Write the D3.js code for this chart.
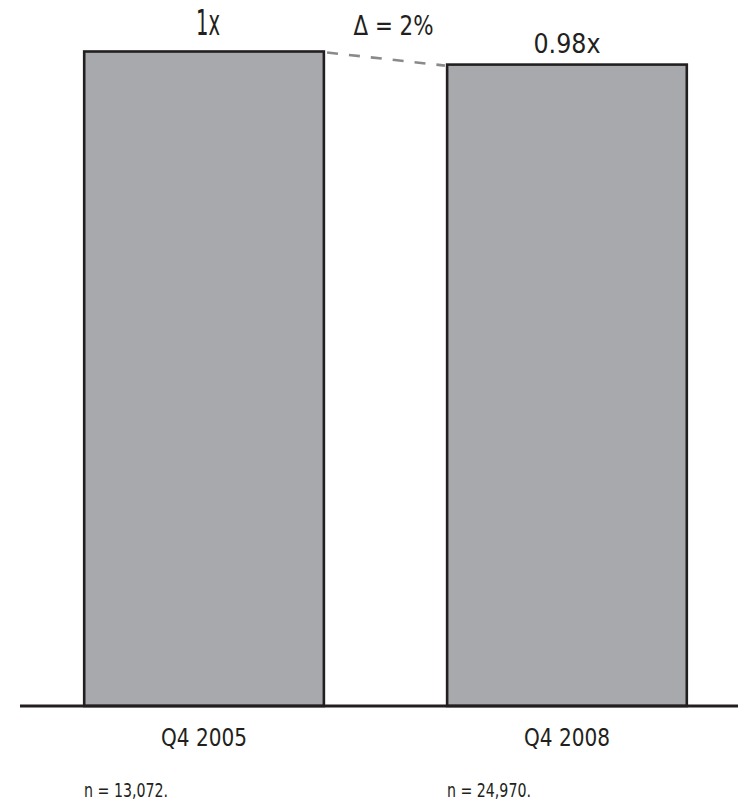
<!DOCTYPE html>
<html>
<head>
<meta charset="utf-8">
<script src="https://cdn.jsdelivr.net/npm/d3@7"></script>
<style>
  html, body { margin: 0; padding: 0; background: #fff; }
  svg { display: block; }
  text { font-family: "Liberation Sans Narrow", "DejaVu Sans Condensed", "Liberation Sans", sans-serif; fill: #231f20; }
</style>
</head>
<body>
<svg id="chart" width="738" height="801"></svg>
<script>
const categories = ["Q4 2005", "Q4 2008"];
const values = [1, 0.98];
const valueLabels = ["1x", "0.98x"];
const sampleLabels = ["n = 13,072.", "n = 24,970."];
const deltaLabel = "\u0394 = 2%";

const svg = d3.select("#chart");
const W = 738, H = 801;
const axisY = 706;

const x = d3.scaleBand().domain(categories).range([83, 688]).paddingInner(0.333).paddingOuter(0);
const y = d3.scaleLinear().domain([0, 1]).range([axisY, 51.5]);

// bars
svg.selectAll("rect.bar").data(categories).join("rect")
  .attr("class", "bar")
  .attr("x", d => x(d) + 1.2)
  .attr("y", (d, i) => y(values[i]))
  .attr("width", x.bandwidth() - 2.4)
  .attr("height", (d, i) => axisY - y(values[i]))
  .attr("fill", "#a7a9ac")
  .attr("stroke", "#231f20")
  .attr("stroke-width", 2.6);

// baseline axis
const xAxis = d3.axisBottom(x).tickSize(0).tickPadding(0);
const gAxis = svg.append("g").attr("transform", `translate(0,${axisY})`).call(xAxis);
gAxis.select(".domain").remove();
gAxis.append("line").attr("x1", 20).attr("x2", W).attr("y1", 0).attr("y2", 0)
  .attr("stroke", "#231f20").attr("stroke-width", 2.8);
gAxis.selectAll(".tick text")
  .attr("y", 40)
  .attr("dy", 0)
  .style("font-size", "24px")
  .attr("fill", "#231f20")
  .attr("textLength", 86)
  .attr("lengthAdjust", "spacingAndGlyphs");

// value labels
const labelSizes = [36, 26];
const labelWidths = [24, 67];
const labelOffsets = [17, 12];
svg.selectAll("text.val").data(categories).join("text")
  .attr("class", "val")
  .attr("x", d => x(d) + x.bandwidth() / 2 + (d === categories[0] ? 4 : 0))
  .attr("y", (d, i) => y(values[i]) - labelOffsets[i])
  .attr("text-anchor", "middle")
  .style("font-size", (d, i) => labelSizes[i] + "px")
  .attr("textLength", (d, i) => labelWidths[i])
  .attr("lengthAdjust", "spacingAndGlyphs")
  .text((d, i) => valueLabels[i]);

// delta dashed connector
const x1 = x(categories[0]) + x.bandwidth();
const x2 = x(categories[1]);
svg.append("line")
  .attr("x1", x1 + 2).attr("y1", y(values[0]) + 1)
  .attr("x2", x2 - 1).attr("y2", y(values[1]) + 1)
  .attr("stroke", "#8a8a8c")
  .attr("stroke-width", 2.6)
  .attr("stroke-dasharray", "11,11");

svg.append("text")
  .attr("x", (x1 + x2) / 2 + 8)
  .attr("y", 35)
  .attr("text-anchor", "middle")
  .style("font-size", "27px")
  .attr("textLength", 80)
  .attr("lengthAdjust", "spacingAndGlyphs")
  .text(deltaLabel);

// sample sizes
svg.selectAll("text.n").data(categories).join("text")
  .attr("class", "n")
  .attr("x", d => x(d) + 1)
  .attr("y", 797)
  .style("font-size", "19px")
  .attr("fill", "#555")
  .attr("textLength", 84)
  .attr("lengthAdjust", "spacingAndGlyphs")
  .text((d, i) => sampleLabels[i]);
</script>
</body>
</html>
